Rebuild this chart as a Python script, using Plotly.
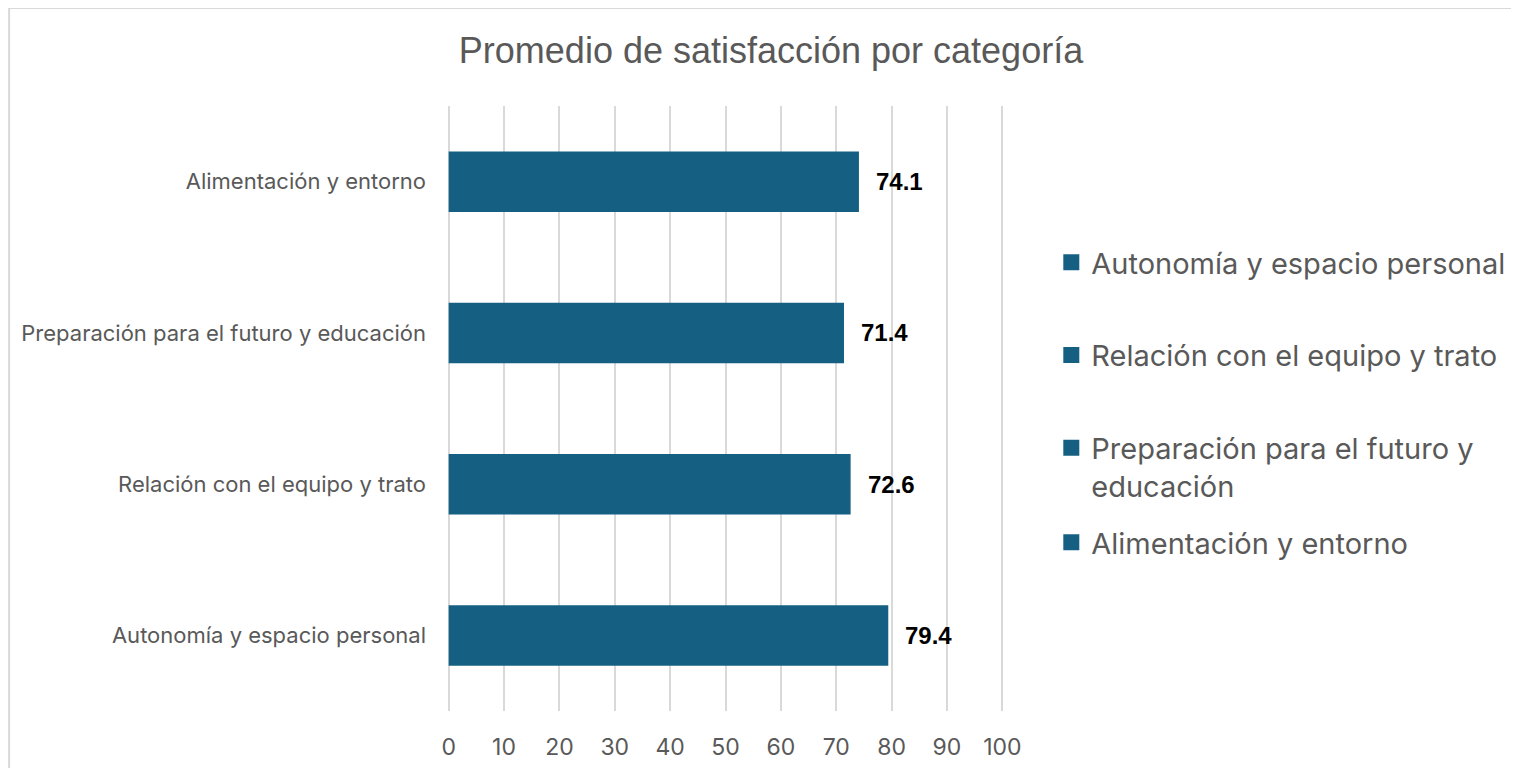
import plotly.graph_objects as go

categories = ["Autonomía y espacio personal", "Relación con el equipo y trato",
              "Preparación para el futuro y educación", "Alimentación y entorno"]
legend_names = ["Autonomía y espacio personal", "Relación con el equipo y trato",
                "Preparación para el futuro y<br>educación", "Alimentación y entorno"]
values = [79.4, 72.6, 71.4, 74.1]
x_ticks = [0, 10, 20, 30, 40, 50, 60, 70, 80, 90, 100]

# page has an 8px body margin: figure coords = screen coords - 8
W, H = 1511, 760
PL, PR, PT, PB = 438.8, 995.7, 98, 703
BAR = "#156082"
TXT = "#595959"
FONT = "Inter, 'Noto Sans', sans-serif"


def px(xf):
    return (xf - PL) / (PR - PL)


def py(yf):
    return (PB - yf) / (PB - PT)


fig = go.Figure()
for cat, name, v in zip(categories, legend_names, values):
    fig.add_trace(go.Bar(
        y=[cat], x=[v], orientation="h", name=name,
        marker=dict(color=BAR, line=dict(width=0)),
        showlegend=False, width=0.4, hoverinfo="x+y",
    ))
    fig.add_annotation(x=v, y=cat, text=f"<b>{v:.1f}</b>", showarrow=False,
                       xanchor="left", xshift=15,
                       font=dict(family="'Liberation Sans', Arial, sans-serif", size=24, color="#000000"))

for i, (cat, name) in enumerate(zip(categories, legend_names)):
    fig.add_trace(go.Scatter(
        x=[None], y=[None], mode="markers", name=name, legendgroup=cat,
        legend="legend2" if i == 3 else "legend",
        marker=dict(symbol="square", size=16, color=BAR),
    ))

leg_common = dict(xanchor="left", yanchor="top",
                  font=dict(family=FONT, size=29, color=TXT),
                  tracegroupgap=52, itemwidth=30, traceorder="grouped",
                  valign="top", bgcolor="rgba(0,0,0,0)")

fig.update_layout(
    width=W, height=H,
    margin=dict(l=PL, r=W - PR, t=PT, b=H - PB, autoexpand=False),
    paper_bgcolor="white", plot_bgcolor="white",
    barmode="overlay",
    title=dict(text="Promedio de satisfacción por categoría",
               x=763 / W, xanchor="center", xref="container",
               y=1 - 42 / H, yanchor="middle", yref="container",
               font=dict(family="'Liberation Sans', Arial, sans-serif",
                         size=36, color=TXT)),
    xaxis=dict(range=[-0.3, 100.3], tickvals=x_ticks, showgrid=True, gridcolor="#D9D9D9",
               gridwidth=1.5, zeroline=False, showline=False,
               tickfont=dict(family=FONT, size=23, color=TXT),
               ticks="", ticklabelstandoff=20),
    yaxis=dict(categoryorder="array", categoryarray=categories, showgrid=False,
               zeroline=False, showline=False, ticks="",
               tickfont=dict(family=FONT, size=22, color=TXT),
               ticklabelstandoff=20),
    showlegend=True,
    legend=dict(x=px(1043), y=py(229), **leg_common),
    legend2=dict(x=px(1043), y=py(509), **leg_common),
    shapes=[
        dict(type="line", xref="paper", yref="paper",
             x0=px(0), x1=px(W + 5), y0=py(0), y1=py(0),
             line=dict(color="#D9D9D9", width=2)),
        dict(type="line", xref="paper", yref="paper",
             x0=px(1), x1=px(1), y0=py(0), y1=py(H + 5),
             line=dict(color="#D9D9D9", width=2)),
    ],
)

fig.write_html("out.html")
